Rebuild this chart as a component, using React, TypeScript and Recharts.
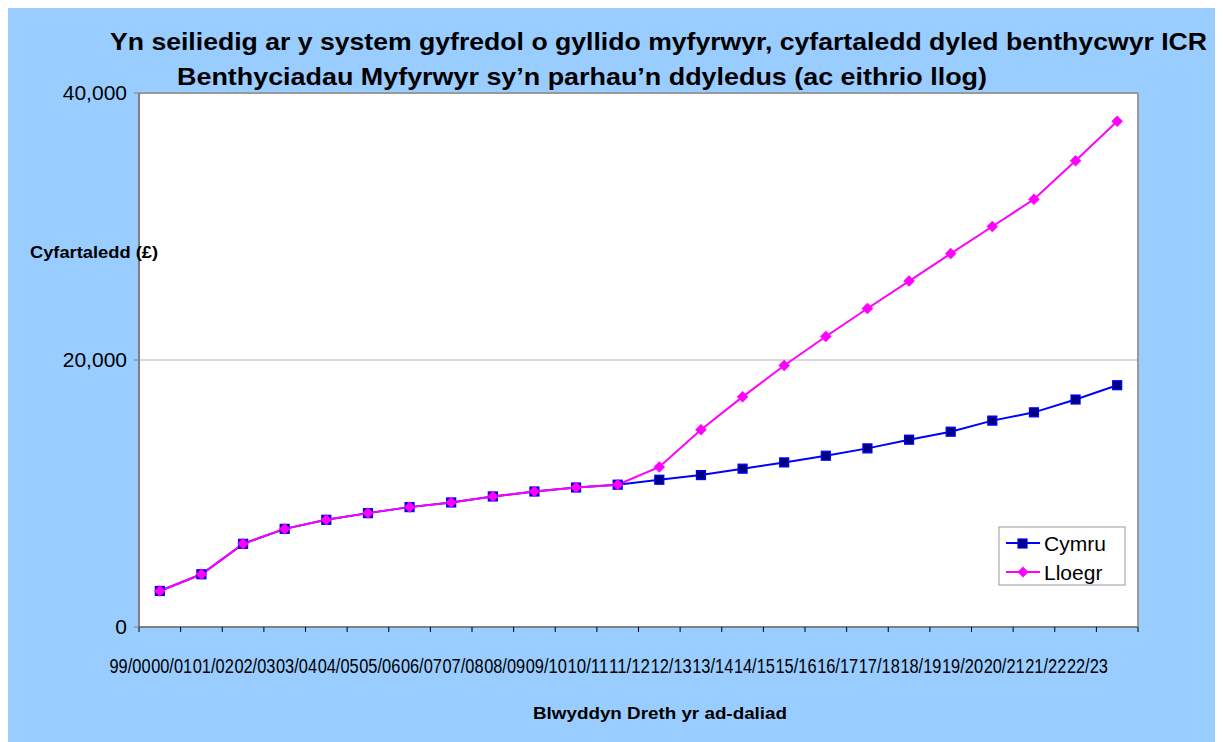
import React from 'react';
import { LineChart, Line, XAxis, YAxis, CartesianGrid, ReferenceLine } from 'recharts';

const years = ['99/00','00/01','01/02','02/03','03/04','04/05','05/06','06/07','07/08','08/09','09/10','10/11','11/12','12/13','13/14','14/15','15/16','16/17','17/18','18/19','19/20','20/21','21/22','22/23'];
const cymru = [2700,3950,6230,7350,8030,8530,8980,9330,9780,10150,10450,10660,11030,11380,11860,12330,12830,13380,14030,14630,15460,16080,17040,18110];
const lloegr = [2700,3950,6230,7350,8030,8530,8980,9330,9780,10150,10450,10660,11990,14780,17240,19590,21760,23860,25910,27970,30000,32040,34920,37880];
const seriesNames = ['Cymru', 'Lloegr'];
const yTicks = [0, 20000, 40000];
const titleLines = [
  'Yn seiliedig ar y system gyfredol o gyllido myfyrwyr, cyfartaledd dyled benthycwyr ICR',
  'Benthyciadau Myfyrwyr sy\u2019n parhau\u2019n ddyledus (ac eithrio llog)',
];
const yTitle = 'Cyfartaledd (\u00a3)';
const xTitle = 'Blwyddyn Dreth yr ad-daliad';

const data = years.map((y, i) => ({ x: i + 0.5, year: y, cymru: cymru[i], lloegr: lloegr[i] }));
const xTicks = years.map((_, i) => i).concat([years.length]);

const FONT = '"Liberation Sans", Arial, sans-serif';

const XTick = (props: any) => {
  const { x, y, payload } = props;
  const label = years[payload.value];
  if (!label) return <g />;
  return (
    <text x={x - 9} y={y + 39} textAnchor="middle" fontFamily={FONT} fontSize={20} fill="#000"
      textLength={41} lengthAdjust="spacingAndGlyphs">{label}</text>
  );
};

const SquareDot = (props: any) => {
  const { cx, cy, index } = props;
  return <rect key={'s' + index} x={cx - 4.5} y={cy - 4.5} width={9} height={9} fill="#000080" stroke="#0000FF" strokeWidth={1.2} />;
};
const DiamondDot = (props: any) => {
  const { cx, cy, index } = props;
  return <path key={'d' + index} d={`M${cx},${cy - 5.5}L${cx + 5.5},${cy}L${cx},${cy + 5.5}L${cx - 5.5},${cy}Z`} fill="#FF00FF" stroke="#FF00FF" strokeWidth={0.5} />;
};

export default function App() {
  return (
    <div style={{ position: 'relative', width: 1215, height: 734, background: '#99CCFF' }}>
      <LineChart width={1215} height={734} data={data} margin={{ top: 85, right: 85, bottom: 85, left: 71 }}>
        <CartesianGrid horizontal={true} vertical={false} stroke="#b4b4b4" fill="#FFFFFF" />
        <XAxis type="number" dataKey="x" domain={[0, 24]} ticks={xTicks} interval={0} height={30}
          tick={<XTick />} tickSize={5} tickLine={{ stroke: '#000' }} axisLine={{ stroke: '#808080', strokeWidth: 2 }} />
        <YAxis domain={[0, 40000]} ticks={yTicks} width={60} tickSize={5} tickMargin={7}
          tick={{ fontSize: 21, fill: '#000', fontFamily: FONT }}
          tickFormatter={(v: number) => v.toLocaleString('en-US')}
          tickLine={{ stroke: '#808080' }} axisLine={{ stroke: '#808080', strokeWidth: 2 }} />
        <ReferenceLine y={40000} stroke="#999999" strokeWidth={2} />
        <ReferenceLine x={24} stroke="#999999" strokeWidth={2} />
        <Line type="linear" dataKey="cymru" name={seriesNames[0]} stroke="#0000FF" strokeWidth={2}
          dot={SquareDot} isAnimationActive={false} />
        <Line type="linear" dataKey="lloegr" name={seriesNames[1]} stroke="#FF00FF" strokeWidth={2}
          dot={DiamondDot} isAnimationActive={false} />
      </LineChart>
      <svg width={1215} height={734} style={{ position: 'absolute', left: 0, top: 0, pointerEvents: 'none' }}>
        <text x={102} y={42} fontFamily={FONT} fontWeight="bold" fontSize={24} fill="#000"
          textLength={1097} lengthAdjust="spacingAndGlyphs">{titleLines[0]}</text>
        <text x={169} y={77} fontFamily={FONT} fontWeight="bold" fontSize={24} fill="#000"
          textLength={810} lengthAdjust="spacingAndGlyphs">{titleLines[1]}</text>
        <text x={22} y={250} fontFamily={FONT} fontWeight="bold" fontSize={17} fill="#000"
          textLength={128} lengthAdjust="spacingAndGlyphs">{yTitle}</text>
        <text x={525} y={711} fontFamily={FONT} fontWeight="bold" fontSize={17} fill="#000"
          textLength={254} lengthAdjust="spacingAndGlyphs">{xTitle}</text>
        <rect x={991} y={519} width={126} height={58} fill="#FFFFFF" stroke="#999999" strokeWidth={1} />
        <line x1={998} y1={535} x2={1032} y2={535} stroke="#0000FF" strokeWidth={2} />
        <rect x={1010} y={531} width={9} height={9} fill="#000080" stroke="#0000FF" strokeWidth={1.2} />
        <text x={1036} y={542.5} fontFamily={FONT} fontSize={21} fill="#000">{seriesNames[0]}</text>
        <line x1={998} y1={564} x2={1032} y2={564} stroke="#FF00FF" strokeWidth={2} />
        <path d="M1015,558.5L1020.5,564L1015,569.5L1009.5,564Z" fill="#FF00FF" />
        <text x={1036} y={571.5} fontFamily={FONT} fontSize={21} fill="#000">{seriesNames[1]}</text>
      </svg>
    </div>
  );
}
